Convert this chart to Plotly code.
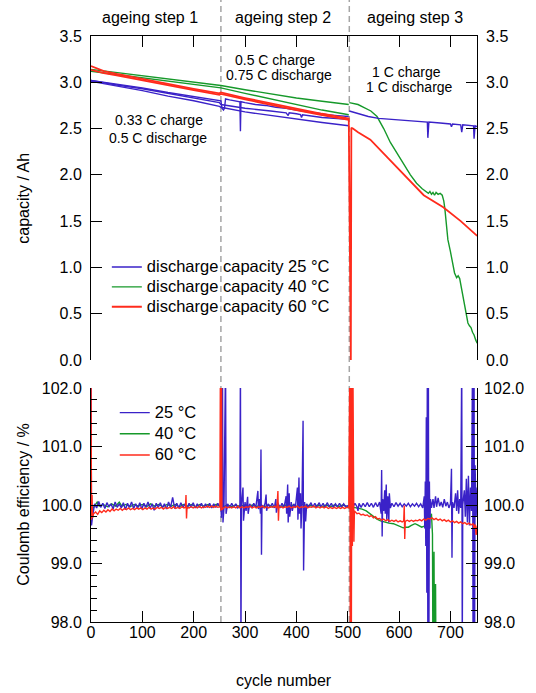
import plotly.graph_objects as go

# ---------------- data ----------------
# capacity (Ah) vs cycle number
cap25_a = [(0, 3.02), (50, 2.98), (100, 2.94), (150, 2.89), (200, 2.85), (250, 2.81), (253, 2.80),
           (255, 2.72), (258, 2.70), (260, 2.72), (262, 2.82), (270, 2.81), (290, 2.79), (291, 2.47),
           (292, 2.79), (300, 2.78), (320, 2.76), (340, 2.75), (360, 2.73), (380, 2.72), (400, 2.70),
           (420, 2.68), (440, 2.67), (460, 2.65), (480, 2.64), (502, 2.63)]
cap25_b = [(0, 3.02), (50, 2.97), (100, 2.93), (150, 2.88), (200, 2.83), (250, 2.78), (253, 2.76),
           (300, 2.72), (350, 2.69), (380, 2.67), (384, 2.64), (386, 2.67), (400, 2.66), (408, 2.65),
           (410, 2.62), (412, 2.65), (450, 2.62), (502, 2.60)]
cap25_c = [(0, 3.01), (50, 2.96), (100, 2.91), (150, 2.85), (200, 2.80), (250, 2.74), (253, 2.73),
           (300, 2.68), (350, 2.64), (400, 2.60), (450, 2.565), (502, 2.53)]
cap25_d = [(503, 2.69), (510, 2.68), (520, 2.66), (540, 2.63), (560, 2.61), (580, 2.60), (600, 2.595),
           (620, 2.585), (640, 2.575), (655, 2.57), (656, 2.40), (658, 2.57), (680, 2.56), (700, 2.55),
           (702, 2.52), (704, 2.55), (720, 2.54), (722, 2.46), (724, 2.54), (740, 2.53), (745, 2.53),
           (746, 2.39), (748, 2.53), (752, 2.52)]

cap40_a = [(0, 3.14), (50, 3.105), (100, 3.07), (150, 3.04), (200, 3.005), (250, 2.97), (253, 2.965),
           (300, 2.92), (350, 2.875), (400, 2.83), (450, 2.795), (502, 2.76)]
cap40_b = [(0, 3.12), (50, 3.085), (100, 3.05), (150, 3.015), (200, 2.98), (250, 2.945), (253, 2.94),
           (300, 2.88), (350, 2.82), (400, 2.76), (450, 2.70), (502, 2.65)]
cap40_c = [(503, 2.78), (510, 2.775), (520, 2.76), (531, 2.73), (545, 2.69), (557, 2.63), (570, 2.50),
           (583, 2.35), (596, 2.23), (609, 2.11), (622, 2.00), (634, 1.91), (645, 1.85), (657, 1.80),
           (660, 1.82), (663, 1.79), (666, 1.81), (669, 1.78), (672, 1.81), (676, 1.79), (680, 1.80),
           (684, 1.78), (687, 1.72), (689, 1.64), (692, 1.45), (695, 1.30), (700, 1.17), (704, 1.05),
           (708, 0.94), (712, 0.89), (715, 0.91), (718, 0.88), (722, 0.75), (726, 0.62), (730, 0.50),
           (734, 0.40), (737, 0.37), (740, 0.35), (743, 0.30), (746, 0.27), (749, 0.22), (752, 0.18)]

cap60_a = [(0, 3.175), (10, 3.15), (25, 3.12), (50, 3.09), (100, 3.035), (150, 2.98), (200, 2.93),
           (250, 2.88), (253, 2.89), (300, 2.83), (350, 2.77), (400, 2.715), (450, 2.66), (502, 2.61),
           (506, 0.0), (507, 2.51), (510, 2.50), (520, 2.46), (544, 2.38), (575, 2.20),
           (609, 2.00), (648, 1.78), (686, 1.65), (720, 1.50), (752, 1.34)]
cap60_b = [(0, 3.135), (25, 3.10), (50, 3.075), (100, 3.02), (150, 2.965), (200, 2.915), (250, 2.865),
           (253, 2.875), (300, 2.815), (350, 2.755), (400, 2.70), (450, 2.645), (502, 2.595)]

# Coulomb efficiency (%) vs cycle number
ce25_s1 = [(0, 102.5), (1, 99.65), (3, 99.80), (7, 100.02), (11, 99.95), (15, 100.06), (19, 99.96),
           (23, 100.03), (27, 99.94), (31, 100.04), (35, 99.97), (39, 100.02), (43, 99.93), (47, 100.05),
           (51, 99.96), (55, 100.02), (59, 99.95), (63, 100.04), (67, 99.92), (71, 100.03), (75, 99.96),
           (79, 100.05), (83, 99.94), (87, 100.02), (91, 99.95), (95, 100.04), (99, 99.93), (103, 100.03),
           (107, 99.96), (111, 100.05), (115, 99.94), (119, 100.02), (123, 99.91), (127, 100.03),
           (131, 99.96), (135, 100.04), (139, 99.95), (143, 100.02), (147, 99.93), (151, 100.05),
           (155, 99.96), (159, 100.13), (163, 99.94), (167, 100.03), (171, 99.95), (175, 100.04),
           (179, 99.96), (183, 100.02), (187, 99.94), (191, 100.03), (195, 99.96), (199, 100.04),
           (203, 99.95), (207, 100.02), (211, 99.96), (215, 100.03), (219, 99.95), (223, 100.02),
           (227, 99.96), (231, 100.03), (235, 99.95), (239, 100.02), (243, 99.96), (247, 100.03),
           (251, 99.97)]
ce25_s2 = [(253, 99.97), (254, 99.78), (256, 102.5), (257, 99.70), (259, 99.95), (262, 102.5),
           (263, 99.85), (266, 100.02), (270, 99.95), (274, 100.03), (278, 99.96), (282, 100.02),
           (286, 99.95), (290, 100.0), (291, 102.5), (292, 97.5), (293, 100.0), (296, 100.3),
           (297, 99.73), (300, 100.05), (302, 99.9), (305, 100.14), (306, 99.85), (309, 100.02),
           (313, 99.95), (317, 100.03), (321, 99.96), (325, 100.24), (326, 99.93), (328, 100.1),
           (330, 99.85), (331, 100.95), (332, 99.15), (333, 100.0), (336, 99.95), (339, 100.03),
           (341, 100.18), (342, 99.9), (345, 100.02), (349, 99.96), (353, 100.03), (357, 99.95),
           (360, 100.1), (361, 99.87), (364, 100.04), (368, 99.95), (372, 100.03), (376, 99.96),
           (380, 100.15), (381, 99.85), (383, 100.35), (384, 99.7), (386, 100.2), (387, 99.8),
           (390, 100.05), (392, 99.9), (395, 100.02), (398, 99.95), (402, 100.3), (403, 99.75),
           (405, 100.47), (406, 99.85), (408, 100.2), (409, 99.6), (411, 100.1), (413, 101.44),
           (414, 98.88), (416, 100.05), (418, 99.72), (420, 100.02), (424, 99.96), (428, 100.04),
           (432, 99.97), (436, 100.03), (440, 99.96), (444, 100.04), (448, 99.97), (452, 100.03),
           (456, 99.96), (460, 100.04), (464, 99.97), (468, 100.03), (472, 99.96), (476, 100.02),
           (480, 99.97), (484, 100.03), (488, 99.96), (492, 100.02), (496, 99.97), (501, 99.99)]
ce25_s3 = [(504, 99.98), (506, 100.02), (510, 99.96), (514, 100.03), (518, 99.97), (520, 99.9),
           (522, 100.03), (526, 99.96), (530, 100.03), (534, 99.97), (538, 100.04), (542, 99.97),
           (546, 100.03), (550, 99.96), (554, 100.04), (558, 99.97), (562, 100.05), (565, 99.85),
           (566, 100.6), (567, 99.46), (568, 100.1), (570, 99.9), (572, 100.25), (573, 99.85),
           (575, 100.35), (576, 99.75), (578, 100.15), (580, 99.7), (581, 100.2), (583, 99.95),
           (586, 100.03), (590, 99.97), (594, 100.04), (598, 99.98), (602, 100.03), (606, 99.97),
           (610, 100.02), (614, 99.98), (618, 100.03), (622, 99.97), (626, 100.02), (630, 99.98),
           (634, 100.03), (638, 99.97), (642, 100.02), (646, 99.95), (649, 100.15), (650, 99.6),
           (651, 100.4), (652, 99.3), (653, 101.5), (654, 98.5), (655, 102.5), (656, 97.5),
           (657, 102.5), (658, 97.5), (659, 100.4), (660, 99.6), (661, 100.1), (663, 99.95),
           (666, 100.1), (668, 99.95), (671, 100.15), (673, 99.97), (676, 100.12), (679, 99.98),
           (682, 100.05), (685, 99.96), (688, 100.1), (691, 99.98), (694, 100.05), (697, 99.95),
           (700, 100.02), (702, 100.62), (703, 99.1), (704, 100.05), (707, 99.95), (710, 100.2),
           (712, 99.9), (714, 100.25), (716, 99.85), (718, 100.1), (720, 99.95), (722, 102.5),
           (723, 97.5), (724, 100.0), (727, 100.25), (729, 99.8), (731, 100.45), (733, 99.7),
           (735, 100.5), (737, 99.65), (739, 100.3), (741, 99.9), (743, 102.5), (744, 97.5),
           (745, 100.6), (746, 102.5), (747, 97.5), (748, 100.68), (750, 99.8), (752, 100.3)]

ce40_s12 = [(2, 99.92), (8, 100.0), (12, 100.05), (16, 99.98), (24, 100.01), (32, 99.97), (40, 100.02),
            (48, 99.98), (55, 100.05), (60, 99.98), (68, 100.01), (76, 99.97), (84, 100.01), (92, 99.98),
            (100, 100.01), (108, 99.97), (116, 100.02), (124, 99.98), (132, 100.01), (140, 99.97),
            (148, 100.01), (156, 99.98), (164, 100.01), (172, 99.97), (180, 100.01), (188, 99.98),
            (196, 100.01), (204, 99.97), (212, 100.01), (220, 99.98), (228, 100.01), (236, 99.97),
            (244, 100.01), (251, 99.98), (258, 99.97), (266, 100.0), (274, 99.97), (282, 100.0),
            (290, 99.97), (298, 100.0), (306, 99.97), (314, 100.0), (322, 99.97), (330, 100.0),
            (338, 99.97), (346, 100.0), (354, 99.97), (362, 100.0), (370, 99.97), (378, 100.0),
            (386, 99.97), (394, 100.0), (402, 99.97), (410, 100.0), (415, 100.03), (418, 99.97),
            (426, 100.0), (434, 99.97), (442, 100.0), (450, 99.97), (458, 100.0), (466, 99.97),
            (474, 100.0), (482, 99.97), (490, 100.0), (501, 99.97)]
ce40_s3 = [(503, 99.95), (512, 99.96), (520, 99.95), (528, 99.93), (536, 99.9), (544, 99.85), (550, 99.8),
           (557, 99.76), (564, 99.73), (570, 99.71), (580, 99.69), (589, 99.68), (598, 99.65), (608, 99.61),
           (613, 99.62), (618, 99.62), (624, 99.65), (631, 99.68), (636, 99.66), (640, 99.64), (644, 99.62),
           (649, 99.64), (654, 99.68), (658, 99.75), (661, 99.82), (663, 99.85), (665, 99.5), (666, 97.0),
           (668, 99.2), (669, 97.0), (671, 98.65), (672, 97.0), (674, 97.5)]

ce60_s1 = [(0, 102.5), (1, 99.75), (2, 100.17), (3, 99.78), (5, 99.85), (9, 99.88), (13, 99.84),
           (17, 99.9), (21, 99.87), (25, 99.91), (29, 99.88), (33, 99.92), (37, 99.89), (41, 99.93),
           (45, 99.9), (49, 99.93), (53, 99.91), (57, 99.94), (61, 99.91), (65, 99.94), (69, 99.92),
           (73, 99.95), (77, 99.92), (81, 99.94), (85, 99.92), (89, 99.95), (93, 99.93), (97, 99.95),
           (101, 99.92), (105, 99.95), (109, 99.93), (113, 99.96), (117, 99.93), (121, 99.95),
           (125, 99.93), (129, 99.96), (133, 99.94), (137, 99.96), (141, 99.93), (145, 99.96),
           (149, 99.94), (153, 99.96), (157, 99.94), (161, 99.97), (165, 99.94), (169, 99.96),
           (173, 99.94), (177, 99.97), (181, 99.95), (184, 99.96), (185, 100.17), (186, 99.77),
           (187, 99.96), (191, 99.95), (195, 99.97), (199, 99.95), (203, 99.97), (207, 99.95),
           (211, 99.98), (215, 99.95), (219, 99.97), (223, 99.96), (227, 99.98), (231, 99.96),
           (235, 99.98), (239, 99.96), (243, 99.98), (247, 99.96), (251, 99.97)]
ce60_s2 = [(252, 102.5), (253, 99.9), (254, 102.5), (255, 99.92), (258, 99.95), (262, 99.97),
           (266, 99.95), (270, 99.97), (274, 99.95), (278, 99.97), (282, 99.95), (286, 99.98),
           (290, 99.95), (294, 99.97), (298, 99.95), (302, 99.97), (306, 99.96), (310, 99.98),
           (314, 99.95), (318, 99.97), (322, 99.95), (326, 99.97), (330, 99.96), (334, 99.98),
           (338, 99.95), (342, 99.97), (346, 99.95), (350, 99.97), (354, 99.96), (358, 99.98),
           (362, 99.95), (364, 100.24), (365, 99.73), (366, 99.96), (370, 99.97), (374, 99.95),
           (378, 99.97), (382, 99.96), (386, 99.98), (390, 99.95), (394, 99.97), (398, 99.96),
           (402, 99.98), (406, 99.95), (410, 99.97), (414, 99.96), (418, 99.98), (422, 99.95),
           (426, 99.97), (430, 99.96), (434, 99.98), (438, 99.95), (442, 99.97), (446, 99.95),
           (450, 99.97), (454, 99.95), (458, 99.97), (462, 99.94), (466, 99.96), (470, 99.94),
           (474, 99.96), (478, 99.94), (482, 99.96), (486, 99.94), (490, 99.96), (494, 99.94),
           (498, 99.96), (502, 99.95)]
ce60_s3 = [(504, 102.5), (505, 97.5), (506, 102.5), (507, 97.5), (508, 102.5), (509, 99.3),
           (510, 102.5), (511, 99.6), (512, 99.37), (513, 99.9), (515, 99.87), (518, 99.85),
           (522, 99.86), (526, 99.83), (530, 99.84), (534, 99.82), (538, 99.83), (542, 99.8),
           (546, 99.82), (550, 99.78), (554, 99.8), (558, 99.76), (562, 99.77), (566, 99.74),
           (570, 99.76), (574, 99.73), (578, 99.75), (582, 99.72), (586, 99.74), (590, 99.72),
           (594, 99.74), (598, 99.71), (602, 99.73), (606, 99.71), (609, 99.73), (610, 99.99),
           (611, 99.42), (612, 99.72), (616, 99.74), (620, 99.72), (624, 99.74), (628, 99.72),
           (632, 99.74), (636, 99.73), (640, 99.75), (644, 99.73), (648, 99.76), (652, 99.74),
           (656, 99.77), (660, 99.76), (664, 99.78), (668, 99.75), (672, 99.77), (676, 99.74),
           (680, 99.76), (684, 99.73), (688, 99.75), (692, 99.72), (696, 99.74), (700, 99.71),
           (704, 99.73), (708, 99.7), (712, 99.72), (716, 99.69), (720, 99.71), (724, 99.68),
           (728, 99.7), (732, 99.67), (736, 99.69), (740, 99.66), (744, 99.68), (746, 99.6),
           (748, 99.67), (750, 99.49), (752, 99.65)]

step_bounds = [253, 503]
x_ticks = [0, 100, 200, 300, 400, 500, 600, 700]
cap_ticks = [0.0, 0.5, 1.0, 1.5, 2.0, 2.5, 3.0, 3.5]
ce_ticks = [98.0, 99.0, 100.0, 101.0, 102.0]
step_labels = ["ageing step 1", "ageing step 2", "ageing step 3"]
legend_top = ["discharge capacity 25 °C", "discharge capacity 40 °C", "discharge capacity 60 °C"]
legend_bot = ["25 °C", "40 °C", "60 °C"]

# ---------------- layout helpers ----------------
W, H = 536, 693
ML, MR, MT, MB = 91, 40, 36, 71
PW = W - ML - MR            # paper width (plot area + room for right labels)
PH = H - MT - MB
X_RIGHT = 481               # pixel of right frame line


def px_x(px):
    return (px - ML) / PW


def px_y(py):
    return (H - MB - py) / PH


BLUE = '#3a22c8'
GREEN = '#16992a'
RED = '#ff2b1c'
FONT = 'Arial, "Liberation Sans", Helvetica, sans-serif'

fig = go.Figure()


def add(pairs, color, width, xa, ya, name=None, legend=None, rank=None):
    xs = [p[0] for p in pairs]
    ys = [p[1] for p in pairs]
    fig.add_trace(go.Scatter(
        x=xs, y=ys, mode='lines', xaxis=xa, yaxis=ya,
        line=dict(color=color, width=width),
        name=name if name else '', showlegend=name is not None,
        legend=legend if legend else 'legend',
        legendrank=rank if rank else 1000, hoverinfo='skip'))


def span(txt, size):
    return '<span style="font-size:%spx">%s</span>' % (size, txt)


# top: capacity
add(cap40_a, GREEN, 1.4, 'x2', 'y2', span(legend_top[1], 16.5), 'legend', 2)
add(cap40_b, GREEN, 1.4, 'x2', 'y2')
add(cap40_c, GREEN, 1.4, 'x2', 'y2')
add(cap25_a, BLUE, 1.4, 'x2', 'y2', span(legend_top[0], 16.5), 'legend', 1)
add(cap25_b, BLUE, 1.4, 'x2', 'y2')
add(cap25_c, BLUE, 1.4, 'x2', 'y2')
add(cap25_d, BLUE, 1.4, 'x2', 'y2')
add(cap60_b, RED, 1.8, 'x2', 'y2')
add(cap60_a, RED, 1.8, 'x2', 'y2', span(legend_top[2], 16.5), 'legend', 3)

# bottom: coulomb efficiency
add(ce40_s12 + ce40_s3, GREEN, 1.4, 'x', 'y', span(legend_bot[1], 16.5), 'legend2', 2)
add(ce25_s1 + ce25_s2 + ce25_s3, BLUE, 1.4, 'x', 'y', span(legend_bot[0], 16.5), 'legend2', 1)
add(ce60_s1 + ce60_s2 + ce60_s3, RED, 1.4, 'x', 'y', span(legend_bot[2], 16.5), 'legend2', 3)

# dummy traces so the right-hand label axes are drawn
fig.add_trace(go.Scatter(x=[None], y=[None], xaxis='x2', yaxis='y4', showlegend=False, hoverinfo='skip'))
fig.add_trace(go.Scatter(x=[None], y=[None], xaxis='x', yaxis='y3', showlegend=False, hoverinfo='skip'))

tickfont = dict(size=16, family=FONT, color='black')
axis_common = dict(showline=True, linecolor='black', linewidth=1, ticks='inside', ticklen=11,
                   tickwidth=1, tickcolor='black', showgrid=False, zeroline=False, tickfont=tickfont)
label_only = dict(showline=False, ticks='', showgrid=False, zeroline=False, tickfont=tickfont)

x_dom = [0, px_x(X_RIGHT)]
top_dom = [px_y(360), 1.0]
bot_dom = [0.0, px_y(388)]
ce_minor = dict(ticks='inside', ticklen=6, tick0=98, dtick=0.2, tickcolor='black', showgrid=False)

fig.update_layout(
    width=W, height=H,
    margin=dict(l=ML, r=MR, t=MT, b=MB, pad=0),
    paper_bgcolor='white', plot_bgcolor='rgba(0,0,0,0)',
    font=dict(family=FONT, size=16, color='black'),
    xaxis=dict(domain=x_dom, anchor='y', range=[0, 752], tickvals=x_ticks,
               ticklabelstandoff=-4, **axis_common),
    yaxis=dict(domain=bot_dom, anchor='x', range=[98, 102], tickvals=ce_ticks,
               ticktext=['%.1f' % v for v in ce_ticks], ticklabelstandoff=5, minor=ce_minor,
               mirror='ticks', **axis_common),
    yaxis3=dict(overlaying='y', side='right', anchor='free', position=px_x(487), range=[98, 102],
                tickvals=ce_ticks, ticktext=['%.1f' % v for v in ce_ticks], **label_only),
    xaxis2=dict(domain=x_dom, anchor='y2', side='top', range=[0, 752], tickvals=x_ticks,
                showticklabels=False, **axis_common),
    yaxis2=dict(domain=top_dom, anchor='x2', range=[0, 3.5], tickvals=cap_ticks,
                ticktext=['%.1f' % v for v in cap_ticks], ticklabelstandoff=5, mirror='ticks',
                **axis_common),
    yaxis4=dict(overlaying='y2', side='right', anchor='free', position=px_x(489), range=[0, 3.5],
                tickvals=cap_ticks, ticktext=['%.1f' % v for v in cap_ticks], **label_only),
    legend=dict(x=px_x(107), y=px_y(252), xanchor='left', yanchor='top', bgcolor='rgba(0,0,0,0)',
                font=dict(size=13, family=FONT, color='black'), tracegroupgap=0, borderwidth=0),
    legend2=dict(x=px_x(115), y=px_y(397), xanchor='left', yanchor='top', bgcolor='rgba(0,0,0,0)',
                 font=dict(size=14, family=FONT, color='black'), tracegroupgap=0, borderwidth=0),
    showlegend=True,
)

for xb in step_bounds:
    fig.add_shape(type='line', xref='x', yref='paper', x0=xb, x1=xb, y0=0, y1=px_y(0),
                  line=dict(color='#a5a5a5', width=1.5, dash='6px,4px'), layer='below')

ann = []
for txt, cx in zip(step_labels, [151, 285, 418]):
    ann.append(dict(text=txt, x=px_x(cx), y=px_y(17), size=16))
for txt, cx, cy in [("0.5 C charge", 277, 60), ("0.75 C discharge", 281, 74.5),
                    ("1 C charge", 410, 72), ("1 C discharge", 413, 87),
                    ("0.33 C charge", 160, 120), ("0.5 C discharge", 159, 138)]:
    ann.append(dict(text=txt, x=px_x(cx), y=px_y(cy), size=14))
for a in ann:
    fig.add_annotation(text=a['text'], xref='paper', yref='paper', x=a['x'], y=a['y'],
                       xanchor='center', yanchor='middle', showarrow=False,
                       font=dict(size=a['size'], family=FONT, color='black'))

for txt, cx, cy, ang in [("capacity / Ah", 22, 198, -90), ("Coulomb efficiency / %", 22, 505, -90),
                         ("cycle number", 286, 680, 0)]:
    fig.add_annotation(text=txt, xref='paper', yref='paper', x=px_x(cx), y=px_y(cy),
                       xanchor='center', yanchor='middle', showarrow=False, textangle=ang,
                       font=dict(size=16, family=FONT, color='black'))

fig.write_html("out.html")
